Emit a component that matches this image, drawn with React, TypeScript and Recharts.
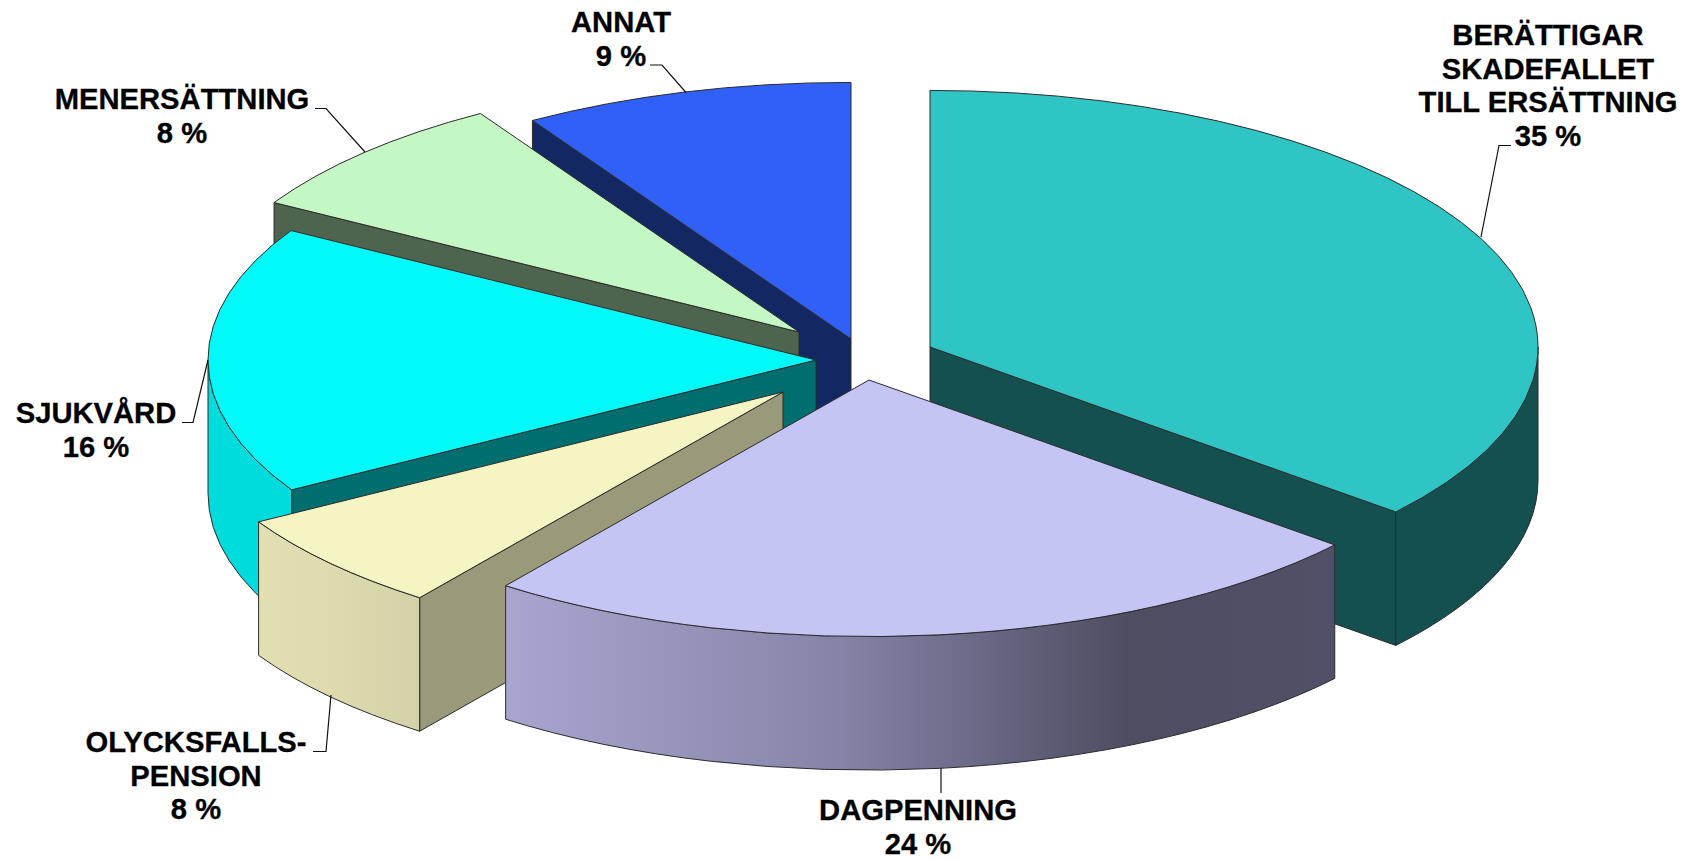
import React from "react";
import { PieChart, Pie } from "recharts";

// ---- data (counter-clockwise from 12 o'clock, which is also the paint order) ----
const categories = ["ANNAT", "MENERSÄTTNING", "SJUKVÅRD", "OLYCKSFALLSPENSION", "DAGPENNING", "BERÄTTIGAR SKADEFALLET TILL ERSÄTTNING"];
const shares = [9, 8, 16, 8, 24, 35];
const labelLines = [["ANNAT"], ["MENERSÄTTNING"], ["SJUKVÅRD"], ["OLYCKSFALLS-", "PENSION"], ["DAGPENNING"], ["BERÄTTIGAR", "SKADEFALLET", "TILL ERSÄTTNING"]];

// ---- styles ----
const topColors = ["#3060F8", "#C3F7C3", "#00FAFA", "#F5F5C3", "#C4C4F5", "#30C5C5"];
const edgeColors = ["#132863", "#4F644F", "#006E6E", "#9A9A7A", "#4E4D62", "#145050"];
const rimFills = ["#132863", "#4F644F", "#00DCDC", "url(#rim-3)", "url(#rim-4)", "#145050"];

// ---- 3-D projection ----
const W = 1689, H = 859, CX = 850, CY = 360, R = 608, TILT = 0.422, DEPTH = 133.5;
// how far each slice is pulled out of the pie, px
const pull = [[1, -21], [-51, -28], [-34, 0], [-67, 32], [19, 20], [80, -13]];
// the reference's projection skews the rim boundaries a little, degrees clockwise from 12 o'clock
const boundarySkew: [number, number][] = [[126, 4], [212.4, 4.3], [241.2, -1.6], [298.8, 1.5], [327.6, 0.8]];

const skew = (deg: number) => {
  const hit = boundarySkew.find(([b]) => Math.abs(b - deg) < 0.01);
  return deg + (hit ? hit[1] : 0);
};

const labelLayout = [
  { x: 621, y: 32, line: [[650, 65], [662, 65], [686, 92.5]] },
  { x: 182, y: 109, line: [[315, 108.5], [326, 108.5], [365, 152]] },
  { x: 96, y: 423, line: [[182, 422.5], [193, 422.5], [208, 360]] },
  { x: 196, y: 752, line: [[313, 751.5], [326, 751.5], [331, 695]] },
  { x: 918, y: 820, line: [[941, 768], [941, 793]] },
  { x: 1548, y: 45, line: [[1511, 145.5], [1499, 145.5], [1481, 237]] },
];

const chartData = categories.map((name, i) => ({ name, value: shares[i] }));

function Slice(props: any) {
  const { index, startAngle, endAngle, cx, cy, outerRadius } = props;
  let a0 = 90 - endAngle, a1 = 90 - startAngle;
  while (a0 < -0.01) { a0 += 360; a1 += 360; }
  a0 = skew(a0); a1 = skew(a1);
  const ax = cx + pull[index][0], ay = cy + pull[index][1];
  const rx = outerRadius, ry = outerRadius * TILT;
  const pt = (deg: number, drop = 0) => {
    const t = (deg * Math.PI) / 180;
    return [ax + rx * Math.sin(t), ay - ry * Math.cos(t) + drop];
  };
  const f = (p: number[]) => `${p[0].toFixed(2)} ${p[1].toFixed(2)}`;
  const edge = "#2b2b2b";
  const radialWall = (deg: number) => {
    const p = pt(deg);
    const d = `M${ax} ${ay}L${f(p)}L${f(pt(deg, DEPTH))}L${ax} ${ay + DEPTH}Z`;
    return <path d={d} fill={edgeColors[index]} stroke={edge} strokeWidth={1} strokeLinejoin="round" />;
  };
  const startVisible = Math.sin((a0 * Math.PI) / 180) < 0;
  const endVisible = Math.sin((a1 * Math.PI) / 180) > 0;
  const r0 = Math.max(a0, 90), r1 = Math.min(a1, 270);
  const large = a1 - a0 > 180 ? 1 : 0;
  return (
    <g>
      {startVisible && radialWall(a0)}
      {endVisible && radialWall(a1)}
      {r1 > r0 && (
        <path
          d={`M${f(pt(r0))}A${rx} ${ry} 0 0 1 ${f(pt(r1))}L${f(pt(r1, DEPTH))}A${rx} ${ry} 0 0 0 ${f(pt(r0, DEPTH))}Z`}
          fill={rimFills[index]}
          stroke={edge}
          strokeWidth={1}
          strokeLinejoin="round"
        />
      )}
      <path
        d={`M${ax} ${ay}L${f(pt(a0))}A${rx} ${ry} 0 ${large} 1 ${f(pt(a1))}Z`}
        fill={topColors[index]}
        stroke={edge}
        strokeWidth={1}
        strokeLinejoin="round"
      />
    </g>
  );
}

const LAST = categories.length - 1;
const BackSlice = (p: any) => (p.index === LAST ? <Slice {...p} /> : <g />);
const FrontSlice = (p: any) => (p.index === LAST ? <g /> : <Slice {...p} />);

function SliceLabel(props: any) {
  const { index, value } = props;
  const lay = labelLayout[index];
  const lines = [...labelLines[index], `${value} %`];
  return (
    <g>
      <polyline points={lay.line.map((p) => p.join(",")).join(" ")} fill="none" stroke="#111" strokeWidth={1.2} />
      <text x={lay.x} y={lay.y} textAnchor="middle" fontFamily="'Liberation Sans', Arial, sans-serif" fontWeight="bold" fontSize={29.2} fill="#000" stroke="#000" strokeWidth={0.3}>
        {lines.map((t, i) => (
          <tspan key={i} x={lay.x} y={lay.y + i * 33.7}>{t}</tspan>
        ))}
      </text>
    </g>
  );
}

export default function App() {
  const common = {
    data: chartData,
    dataKey: "value",
    nameKey: "name",
    cx: CX,
    cy: CY,
    innerRadius: 0,
    outerRadius: R,
    startAngle: 90,
    endAngle: 450,
    paddingAngle: 0,
    isAnimationActive: false,
    labelLine: false,
    stroke: "none",
  };
  return (
    <div style={{ position: "absolute", left: 0, top: 0, width: W, height: H, background: "#fff" }}>
      <PieChart width={W} height={H} margin={{ top: 0, right: 0, bottom: 0, left: 0 }}>
        <defs>
          <linearGradient id="rim-3" x1="0" y1="0" x2="1" y2="0">
            <stop offset="0" stopColor="#E2DFB3" />
            <stop offset="0.5" stopColor="#DCDAAE" />
            <stop offset="1" stopColor="#D3D2A8" />
          </linearGradient>
          <linearGradient id="rim-4" x1="0" y1="0" x2="1" y2="0">
            <stop offset="0" stopColor="#A8A6CF" />
            <stop offset="0.4" stopColor="#8584A8" />
            <stop offset="0.75" stopColor="#4E4D62" />
            <stop offset="1" stopColor="#505068" />
          </linearGradient>
        </defs>
        <Pie {...common} shape={BackSlice} label={false} />
        <Pie {...common} shape={FrontSlice} label={SliceLabel} />
      </PieChart>
    </div>
  );
}
